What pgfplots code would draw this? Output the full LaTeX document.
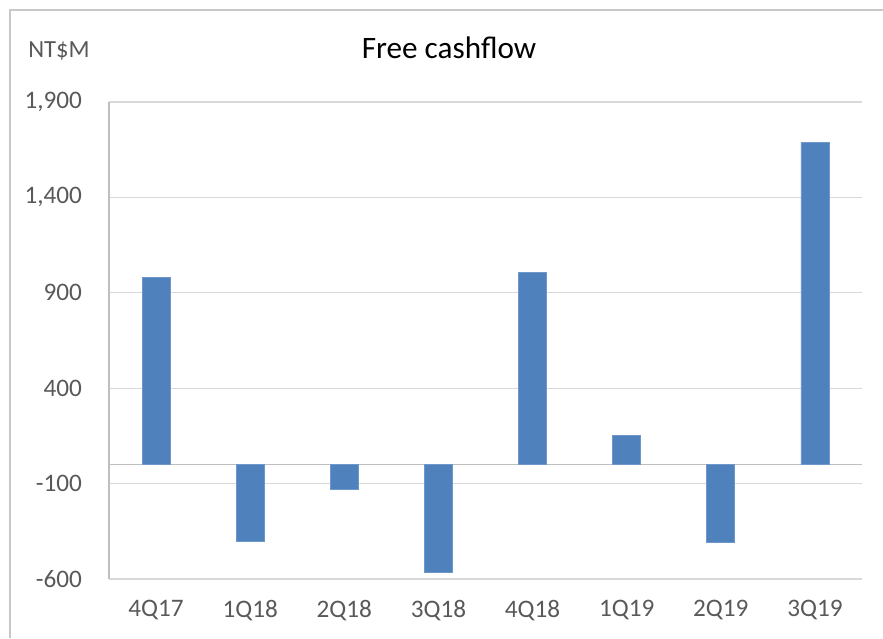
\documentclass[border=0pt]{standalone}
\usepackage{pgfplots}
\pgfplotsset{compat=1.18}
\usepackage{fontspec}
\setmainfont{Carlito}
\definecolor{barblue}{RGB}{79,129,189}
\definecolor{baredge}{RGB}{110,152,204}
\definecolor{ticktext}{RGB}{89,89,89}
\definecolor{gridgray}{RGB}{217,217,217}
\definecolor{zerogray}{RGB}{191,191,191}
\definecolor{framegray}{RGB}{200,200,200}
\begin{document}
\begin{tikzpicture}
\useasboundingbox (0,0) rectangle (441.5pt,319pt);
\draw[framegray, line width=0.6pt] (5pt,0pt) -- (5pt,314pt) -- (441.5pt,314pt);
\node[anchor=base, font=\fontsize{15.6}{18}\selectfont, text=black] at (224.5pt,289.5pt) {Free cashflow};
\node[anchor=base, font=\fontsize{12.3}{14}\selectfont, text=ticktext] at (29.5pt,290.3pt) {NT\$M};
\begin{axis}[
  at={(54.5pt,29.5pt)}, anchor=south west,
  scale only axis, width=376.5pt, height=238.5pt,
  xmin=-0.5, xmax=7.5, ymin=-600, ymax=1900,
  ytick={-600,-100,400,900,1400,1900},
  xtick={0,...,7},
  xticklabels={4Q17,1Q18,2Q18,3Q18,4Q18,1Q19,2Q19,3Q19},
  separate axis lines,
  axis lines*=left,
  x axis line style={draw=none},
  y axis line style={draw=zerogray, line width=0.6pt},
  major tick length=0pt,
  ymajorgrids,
  major grid style={gridgray, line width=0.6pt},
  extra y ticks={0},
  extra y tick labels={},
  extra y tick style={grid=major, major grid style={zerogray, line width=0.7pt}},
  /pgf/number format/assume math mode=true,
  /pgf/number format/1000 sep={,},
  yticklabel style={font=\fontsize{12.6}{14}\selectfont, text=ticktext, xshift=-10pt},
  xticklabel style={font=\fontsize{12.6}{14}\selectfont, text=ticktext, yshift=-7pt},
  ybar, bar width=14pt,
  axis on top=false,
  clip=false,
]
\addplot[fill=barblue, draw=baredge, line width=0.4pt] coordinates {
  (0,980) (1,-403) (2,-131) (3,-566) (4,1006) (5,152) (6,-409) (7,1688)
};
\end{axis}
\end{tikzpicture}
\end{document}
